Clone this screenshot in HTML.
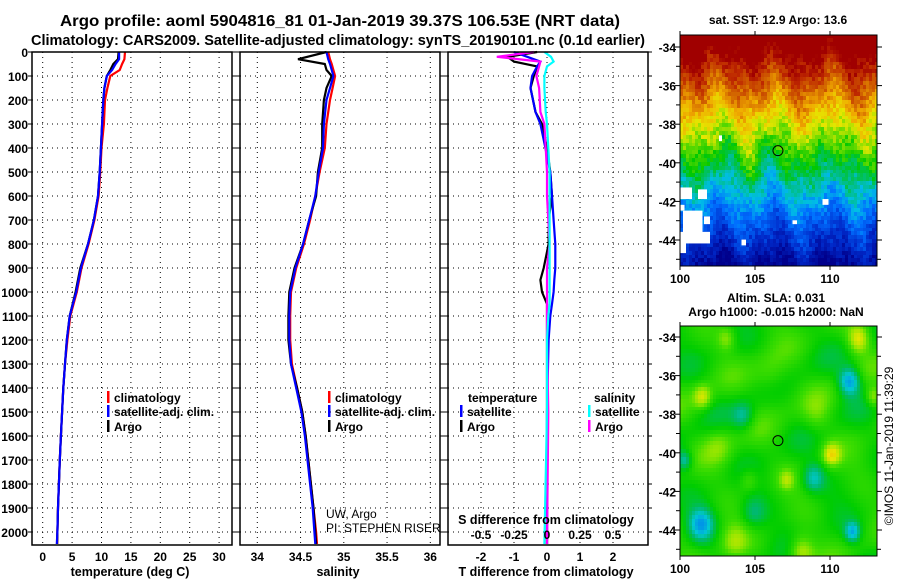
<!DOCTYPE html>
<html><head><meta charset="utf-8">
<style>
body{margin:0;background:#fff;width:900px;height:580px;overflow:hidden;font-family:"Liberation Sans",sans-serif;}
#root{position:relative;width:900px;height:580px;}
svg{position:absolute;left:0;top:0;}
canvas{position:absolute;image-rendering:pixelated;}
</style></head>
<body>
<div id="root">
<canvas id="sst" width="197" height="231" style="left:680px;top:35px"></canvas>
<canvas id="sla" width="197" height="230" style="left:680px;top:326px"></canvas>
<svg id="chart" width="900" height="580"></svg>
</div>
<script>
// ---- data ----
const depths = [0,30,50,75,100,150,200,300,400,500,600,700,800,900,1000,1100,1200,1300,1400,1500,1600,1700,1800,1900,2000,2050];
const tempClim = [14.0,13.9,13.5,13.1,11.5,11.0,10.6,10.4,10.0,9.8,9.5,8.8,7.8,6.6,5.8,4.7,4.2,3.8,3.5,3.3,3.1,2.9,2.75,2.6,2.5,2.45];
const tempSat  = [13.0,13.0,12.4,11.8,10.9,10.5,10.3,10.1,9.9,9.7,9.4,8.7,7.7,6.5,5.7,4.6,4.1,3.8,3.5,3.3,3.1,2.9,2.75,2.6,2.5,2.4];
const tempArgo = [12.9,12.8,12.0,11.5,10.9,10.5,10.3,10.1,9.9,9.7,9.4,8.7,7.7,6.4,5.6,4.6,4.1,3.8,3.5,3.3,3.1,2.9,2.75,2.6,2.5,2.45];
const salClim = [34.82,34.84,34.86,34.88,34.90,34.87,34.84,34.80,34.78,34.72,34.67,34.61,34.54,34.45,34.39,34.38,34.38,34.40,34.46,34.52,34.56,34.59,34.62,34.65,34.68,34.69];
const salSat  = [34.80,34.82,34.84,34.86,34.88,34.84,34.80,34.77,34.76,34.71,34.67,34.60,34.53,34.44,34.38,34.37,34.37,34.39,34.45,34.51,34.55,34.58,34.61,34.64,34.66,34.67];
const salArgo = [34.80,34.47,34.78,34.80,34.86,34.80,34.77,34.75,34.75,34.70,34.68,34.60,34.53,34.43,34.37,34.36,34.36,34.39,34.46,34.52,34.56,34.59,34.62,34.65,34.67,34.68];
const diffDepths = [0,20,40,60,100,150,250,300,400,500,600,700,800,900,950,1000,1050,1100,1200,1500,2050];
const dTargo = [-0.3,-1.2,-1.0,-0.3,-0.4,-0.5,-0.35,-0.15,0.0,0.1,0.15,0.05,0.05,-0.1,-0.2,-0.15,0.0,0.0,0.0,0.0,0.0];
const dTsat  = [-1.0,-0.6,-0.2,-0.3,-0.45,-0.5,-0.35,-0.2,-0.05,0.1,0.15,0.2,0.25,0.25,0.22,0.2,0.15,0.1,0.05,0.0,0.0];
const dSargo = [-0.1,-0.38,-0.05,-0.06,-0.08,-0.06,-0.05,-0.02,-0.01,0.0,0.0,0.01,0.02,0.0,0.0,0.0,0.0,0.0,0.0,0.01,0.0];
const dSsat  = [-0.02,0.03,0.05,0.0,-0.02,-0.02,-0.01,0.0,0.01,0.02,0.02,0.02,0.02,0.02,0.02,0.02,0.02,0.01,0.0,0.0,-0.02];
const depthTicks = [0,100,200,300,400,500,600,700,800,900,1000,1100,1200,1300,1400,1500,1600,1700,1800,1900,2000];
const tempTicks = [0,5,10,15,20,25,30];
const salTicks = [34,34.5,35,35.5,36];
const salTickLabels = ["34","34.5","35","35.5","36"];
const dTTicks = [-2,-1,0,1,2];
const dSTicks = [-0.5,-0.25,0,0.25,0.5];
const dSTickLabels = ["-0.5","-0.25","0","0.25","0.5"];
const latTicks = [-34,-36,-38,-40,-42,-44];
const lonTicks = [100,105,110];

// ---- axes ----
const TOP=52, BOT=545;
const yD = d => 52 + d*0.24;
const xT = t => 42.7 + t*5.88;
const xS = s => 257.3 + (s-34)*86.5;
const xdT = t => 547 + t*33;
const xdS = s => 547 + s*132;
const P1=[32,232], P2=[240,440], P3=[448,648];
const MX0=680, MX1=877;
const xLon = l => 680 + (l-100)*15;
const yLat1 = l => 47 + (-34-l)*19.3;
const yLat2 = l => 337 + (-34-l)*19.3;

const NS='http://www.w3.org/2000/svg';
const svg=document.getElementById('chart');
function mk(tag,attrs,parent){const e=document.createElementNS(NS,tag);for(const k in attrs)e.setAttribute(k,attrs[k]);(parent||svg).appendChild(e);return e;}
function txt(x,y,s,opt){opt=opt||{};const e=mk('text',{x:x,y:y,'font-size':opt.size||12,'font-weight':opt.weight||'bold','text-anchor':opt.anchor||'start','font-family':'Liberation Sans, sans-serif',fill:opt.fill||'#000'});if(opt.transform)e.setAttribute('transform',opt.transform);if(opt.len){e.setAttribute('textLength',opt.len);e.setAttribute('lengthAdjust','spacingAndGlyphs');}e.textContent=s;return e;}

// titles
let t1=txt(340,26,'Argo profile: aoml 5904816_81 01-Jan-2019 39.37S 106.53E (NRT data)',{size:15.5,anchor:'middle',len:560});


let t2=txt(338,45,'Climatology: CARS2009. Satellite-adjusted climatology: synTS_20190101.nc (0.1d earlier)',{size:14.5,anchor:'middle',len:614});



function panel(P,name,vxs){
  const g=mk('g',{});
  
  
  depthTicks.forEach(d=>{mk('line',{x1:P[0],x2:P[1],y1:yD(d),y2:yD(d),stroke:'#000','stroke-width':1,'stroke-dasharray':'1,4'},g);
    mk('line',{x1:P[0]-4,x2:P[0],y1:yD(d),y2:yD(d),stroke:'#000'},g);
    mk('line',{x1:P[1],x2:P[1]+4,y1:yD(d),y2:yD(d),stroke:'#000'},g);});
  vxs.forEach(x=>{mk('line',{x1:x,x2:x,y1:TOP,y2:BOT,stroke:'#000','stroke-dasharray':'1,4'},g);});
  return g;
}
const g1=panel(P1,'temperature-panel',tempTicks.map(xT));
const g2=panel(P2,'salinity-panel',salTicks.map(xS));
const g3=panel(P3,'difference-panel',dTTicks.map(xdT));

function line(xs,ds,fx,color,g,name,w){
  const pts=xs.map((v,i)=>fx(v).toFixed(1)+','+yD(ds[i]).toFixed(1)).join(' ');
  const p=mk('polyline',{points:pts,fill:'none',stroke:color,'stroke-width':w||2.2,'stroke-linejoin':'miter'},g);
  
  
}
line(tempClim,depths,xT,'#f00',g1,'temp-climatology-line');
line(tempArgo,depths,xT,'#000',g1,'temp-argo-line');
line(tempSat,depths,xT,'#00f',g1,'temp-satellite-line');
line(salClim,depths,xS,'#f00',g2,'sal-climatology-line');
line(salArgo,depths,xS,'#000',g2,'sal-argo-line');
line(salSat,depths,xS,'#00f',g2,'sal-satellite-line');
line(dTargo,diffDepths,xdT,'#000',g3,'dT-argo-line');
line(dTsat,diffDepths,xdT,'#00f',g3,'dT-satellite-line');
line(dSargo,diffDepths,xdS,'#f0f',g3,'dS-argo-line');
line(dSsat,diffDepths,xdS,'#0ff',g3,'dS-satellite-line');

// frames
[P1,P2,P3].forEach((P,i)=>{const r=mk('rect',{x:P[0],y:TOP,width:P[1]-P[0],height:BOT-TOP,fill:'none',stroke:'#000','stroke-width':1.5});
  
  });

// depth labels
depthTicks.forEach(d=>{const e=txt(28,yD(d)+5,String(d),{anchor:'end'});
  
  });
tempTicks.forEach(t=>{const e=txt(xT(t),561,String(t),{anchor:'middle'});
  
  });
salTicks.forEach((s,i)=>{const e=txt(xS(s),561,salTickLabels[i],{anchor:'middle'});
  
  });
dTTicks.forEach(t=>{const e=txt(xdT(t),561,String(t),{anchor:'middle'});
  
  });
dSTicks.forEach((s,i)=>{const e=txt(xdS(s),539,dSTickLabels[i],{anchor:'middle'});
  
  });
let a;
a=txt(130,576,'temperature (deg C)',{anchor:'middle',size:12.5});
a=txt(338,576,'salinity',{anchor:'middle',size:12.5});
a=txt(546,576,'T difference from climatology',{anchor:'middle',size:12.5});
a=txt(546,524,'S difference from climatology',{anchor:'middle',size:12.5});
a=txt(326,518,'UW, Argo',{weight:'normal',size:12});
a=txt(326,532,'PI: STEPHEN RISER',{weight:'normal',size:12});

function legendEntry(x,y,color,label){
  const g=mk('g',{});
  
  
  mk('rect',{x:x,y:y-11,width:2.5,height:12,fill:color},g);
  const t=txt(x+7,y,label);g.appendChild(t);
}
legendEntry(107,402,'#f00','climatology');
legendEntry(107,416,'#00f','satellite-adj. clim.');
legendEntry(107,431,'#000','Argo');
legendEntry(328,402,'#f00','climatology');
legendEntry(328,416,'#00f','satellite-adj. clim.');
legendEntry(328,431,'#000','Argo');
a=txt(468,402,'temperature');
a=txt(594,402,'salinity');
legendEntry(460,416,'#00f','satellite');
legendEntry(460,431,'#000','Argo');
legendEntry(588,416,'#0ff','satellite');
legendEntry(588,431,'#f0f','Argo');

// ---- maps ----
function hash(i,j){let h=(i*374761393+j*668265263)^0x5bd1e995;h=(h^(h>>>13))*1274126177;h=h^(h>>>16);return ((h>>>0)%1000)/1000;}
function interp(stops,v){v=Math.max(0,Math.min(1,v));for(let k=1;k<stops.length;k++){if(v<=stops[k][0]){const a=stops[k-1],b=stops[k];const f=(v-a[0])/(b[0]-a[0]);return [0,1,2].map(c=>Math.round(a[1][c]+(b[1][c]-a[1][c])*f));}}return stops[stops.length-1][1];}
const sstStops=[[0,[0,0,140]],[0.12,[0,40,200]],[0.25,[0,110,255]],[0.35,[0,190,230]],[0.42,[0,190,130]],[0.5,[0,200,0]],[0.58,[110,220,0]],[0.66,[230,230,0]],[0.74,[240,170,0]],[0.82,[210,100,0]],[0.9,[190,40,0]],[0.96,[160,0,0]],[1,[160,0,0]]];
(function(){
  const c=document.getElementById('sst').getContext('2d');
  const cw=3, ch=3.86;
  for(let j=0;j*ch<231;j++){for(let i=0;i*cw<197;i++){
    const lon=100+(i*cw)/15, lat=-33.4-(j*ch)/19.3;
    let v=(lat+45.5)/11.5 + 0.04*Math.sin(lon*1.7)+0.03*Math.sin(lon*3.1+lat)+ (hash(i,j)-0.5)*0.09;
    if(lat<-38.5&&lat>-41) v+=0.03*Math.sin(lon*2.3);
    const col=interp(sstStops,v);
    c.fillStyle='rgb('+col+')';c.fillRect(i*cw,Math.floor(j*ch),cw,Math.ceil(ch)+1);
  }}
  c.fillStyle='#fff';
  [[100,-41.3,0.8,0.6],[101.2,-41.4,0.6,0.5],[100,-42.2,0.3,0.3],[100.2,-42.5,1.3,1.3],[101.6,-42.8,0.4,0.4],[100,-43.6,2.0,0.6],[100,-44.1,0.4,0.6],[109.5,-41.9,0.4,0.3],[102.6,-38.6,0.2,0.3],[104.1,-44.0,0.3,0.3],[107.5,-43.0,0.3,0.2]].forEach(r=>{
    c.fillRect((r[0]-100)*15,(-33.4-r[1])*19.3,r[2]*15,r[3]*19.3);});
})();
const slaStops=[[0,[0,150,230]],[0.15,[0,200,210]],[0.3,[0,185,110]],[0.45,[0,205,0]],[0.6,[60,220,0]],[0.72,[150,230,0]],[0.85,[230,230,0]],[1,[245,180,0]]];
const slaBlobs=[[111.2,-36.2,-0.5,0.7],[101.3,-43.6,-0.45,0.8],[111.4,-44.0,-0.4,0.5],[108.8,-41.2,-0.3,0.7],[104.1,-38.0,-0.25,0.7],[100.2,-40.3,-0.3,0.5],[104.8,-43.0,-0.2,0.8],[110.0,-40.0,0.35,0.6],[111.8,-34.0,0.35,0.7],[101.4,-37.0,0.3,0.6],[108.0,-45.0,0.3,0.8],[107.0,-41.3,0.2,0.5],[103.0,-34.0,0.2,0.6],[112.8,-37.0,0.25,0.5],[104.5,-41.3,0.15,0.6],[106.0,-36.0,0.15,1.2],[102.5,-39.5,0.15,1.0],[109.0,-38.0,0.12,0.9],[103.5,-44.5,0.2,0.9]];
(function(){
  const c=document.getElementById('sla').getContext('2d');
  const cw=3, ch=3.86;
  for(let j=0;j*ch<230;j++){for(let i=0;i*cw<197;i++){
    const lon=100+(i*cw)/15, lat=-33.4-(j*ch)/19.3;
    let v=0.5+0.06*Math.sin(lon*1.3+lat*0.9)+0.05*Math.cos(lat*1.5-lon*0.7)+0.04*Math.sin(lon*0.8-lat*2.1);
    slaBlobs.forEach(b=>{const dx=lon-b[0],dy=lat-b[1];v+=b[2]*Math.exp(-(dx*dx+dy*dy)/(b[3]*b[3]));});
    const col=interp(slaStops,v);
    c.fillStyle='rgb('+col+')';c.fillRect(i*cw,Math.floor(j*ch),cw,Math.ceil(ch)+1);
  }}
})();
function mapAxes(yLat,y0,y1,name){
  const g=mk('g',{});
  
  
  mk('rect',{x:MX0,y:y0,width:MX1-MX0,height:y1-y0,fill:'none',stroke:'#000','stroke-width':1},g);
  for(let l=-34;l>=-45;l--){const y=yLat(l);const len=(l%2===0)?5:4;
    mk('line',{x1:MX0-len,x2:MX0,y1:y,y2:y,stroke:'#000'},g);mk('line',{x1:MX1,x2:MX1+len,y1:y,y2:y,stroke:'#000'},g);}
  latTicks.forEach(l=>{const t=txt(MX0-4,yLat(l)+5,String(l),{anchor:'end'});g.appendChild(t);});
  lonTicks.forEach(l=>{const x=xLon(l);mk('line',{x1:x,x2:x,y1:y0-4,y2:y0,stroke:'#000'},g);mk('line',{x1:x,x2:x,y1:y1,y2:y1+4,stroke:'#000'},g);
    const t=txt(x,y1+17,String(l),{anchor:'middle'});g.appendChild(t);});
  const cc=mk('circle',{cx:xLon(106.53),cy:yLat(-39.37),r:5,fill:'none',stroke:'#000','stroke-width':1},g);
  
  
}
mapAxes(yLat1,35,266,'sst-map-axes');
mapAxes(yLat2,326,556,'sla-map-axes');
a=txt(778,24,'sat. SST: 12.9 Argo: 13.6',{anchor:'middle'});
a=txt(776,302,'Altim. SLA: 0.031',{anchor:'middle'});
a=txt(776,316,'Argo h1000: -0.015 h2000: NaN',{anchor:'middle'});
a=txt(0,0,'©IMOS 11-Jan-2019 11:39:29',{weight:'normal',size:12,anchor:'middle',transform:'translate(893,446) rotate(-90)'});
</script>
</body></html>
